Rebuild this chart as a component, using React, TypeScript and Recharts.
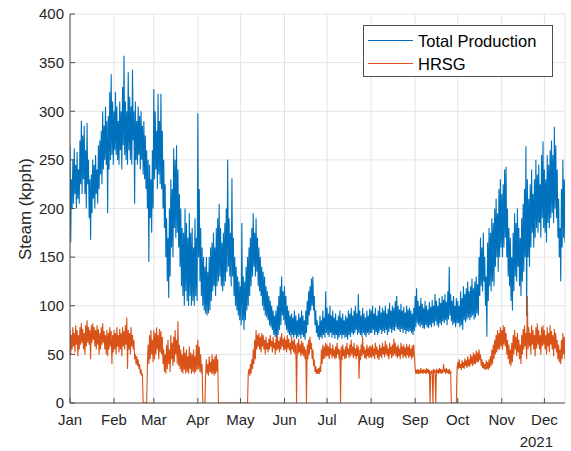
import React from 'react';
import { LineChart, Line, XAxis, YAxis, CartesianGrid, Legend, Label } from 'recharts';

// Day-of-year ticks (2021) and labels
const MONTH_TICKS = [0, 31, 59, 90, 120, 151, 181, 212, 243, 273, 304, 334];
const MONTH_LABELS = ['Jan', 'Feb', 'Mar', 'Apr', 'May', 'Jun', 'Jul', 'Aug', 'Sep', 'Oct', 'Nov', 'Dec'];
const Y_TICKS = [0, 50, 100, 150, 200, 250, 300, 350, 400];
const SERIES_NAMES = ['Total Production', 'HRSG'];

// Total Production: two readings per day (kpph)
const totJan = [[265,165],[230,200],[250,205],[262,215],[245,200],[258,210],[240,205],[270,225],[290,215],[275,230],[285,215],[260,200],[288,225],[250,190],[230,168],[235,195],[250,210],[245,200],[255,215],[240,205],[265,220],[270,235],[280,225],[300,240],[285,250],[305,245],[290,195],[295,240],[320,250],[338,255],[310,245]];
const totFeb = [[300,260],[320,255],[305,250],[290,245],[310,260],[300,240],[325,265],[357,255],[310,250],[300,245],[340,260],[315,250],[305,245],[343,270],[300,205],[310,250],[290,245],[305,255],[295,240],[300,250],[285,235],[290,230],[275,220],[260,200],[250,145],[245,190],[230,175],[260,200]];
const totMar = [[323,230],[300,240],[280,220],[318,235],[290,225],[318,220],[280,200],[250,180],[225,150],[190,125],[170,108],[200,130],[230,160],[220,150],[262,180],[250,170],[265,175],[240,160],[215,140],[200,120],[180,110],[175,100],[200,115],[185,105],[170,100],[195,110],[175,100],[180,105],[160,100],[190,110],[170,105]];
const totApr = [[298,150],[220,125],[180,110],[160,100],[150,95],[140,92],[150,90],[135,92],[150,95],[160,105],[165,115],[175,120],[160,110],[180,120],[190,125],[205,130],[180,120],[165,115],[175,120],[185,125],[200,135],[250,140],[190,130],[175,120],[231,130],[170,110],[150,100],[140,95],[130,90],[125,85]];
const totMay = [[120,80],[185,85],[130,75],[125,85],[140,95],[150,100],[160,110],[170,120],[180,130],[195,140],[175,130],[190,135],[170,120],[160,115],[150,110],[140,100],[135,95],[130,90],[120,88],[115,85],[110,80],[105,78],[100,75],[95,70],[90,68],[95,65],[100,70],[110,75],[120,80],[130,90],[115,85]];
const totJun = [[120,80],[110,75],[100,72],[95,70],[90,68],[92,70],[88,67],[95,70],[90,66],[85,68],[92,70],[88,66],[95,70],[90,68],[85,65],[95,72],[105,80],[115,90],[120,95],[128,100],[130,95],[110,80],[95,72],[85,68],[80,65],[90,68],[85,66],[95,70],[88,67],[115,72]];
const totJul = [[98,70],[92,68],[100,72],[90,67],[95,70],[88,66],[92,70],[85,65],[90,68],[95,70],[88,66],[92,70],[85,67],[90,68],[88,65],[95,70],[92,68],[98,72],[90,70],[95,72],[100,75],[92,70],[112,72],[95,70],[90,68],[98,72],[92,70],[88,68],[95,72],[90,70],[97,72]];
const totAug = [[95,72],[100,75],[92,70],[98,73],[90,70],[95,72],[100,75],[93,71],[98,74],[95,72],[100,75],[92,70],[97,73],[103,76],[95,72],[100,75],[98,74],[105,78],[110,76],[100,75],[96,73],[102,76],[95,72],[99,75],[93,71],[100,74],[96,73],[98,74],[95,72],[92,70],[98,74]];
const totSep = [[110,78],[118,82],[105,80],[100,78],[108,80],[102,77],[98,76],[105,80],[100,78],[96,77],[104,80],[99,78],[106,82],[100,79],[112,84],[105,80],[100,78],[108,82],[103,80],[110,84],[106,82],[112,85],[104,80],[115,86],[140,90],[112,84],[105,80],[110,82],[100,78],[108,82]];
const totOct = [[105,82],[100,78],[115,80],[108,75],[120,85],[112,83],[118,86],[125,88],[115,85],[120,88],[128,90],[118,86],[125,88],[130,92],[122,90],[150,110],[170,120],[160,115],[175,125],[150,100],[130,68],[165,105],[180,120],[175,115],[190,125],[185,120],[200,140],[210,150],[195,135],[220,150],[230,160]];
const totNov = [[215,150],[225,160],[240,170],[243,150],[200,130],[180,120],[170,105],[150,95],[175,115],[195,130],[185,125],[200,140],[180,120],[170,110],[190,125],[205,135],[220,150],[264,89],[230,150],[210,140],[225,160],[240,175],[215,160],[230,170],[250,180],[235,175],[245,185],[225,170],[255,190],[269,180]];
const totDec = [[240,175],[230,165],[255,185],[245,180],[260,190],[270,195],[255,185],[284,200],[265,190],[240,170],[210,150],[180,125],[220,160],[250,170],[230,165]];

// HRSG: two readings per day (kpph)
const hrsgJan = [[75,50],[70,55],[78,58],[72,52],[80,60],[75,48],[70,55],[78,60],[82,62],[76,55],[72,50],[80,58],[85,62],[78,60],[75,45],[80,62],[82,65],[78,58],[75,55],[80,60],[76,50],[72,55],[78,60],[82,62],[74,55],[70,50],[75,48],[72,55],[78,58],[74,40],[70,52]];
const hrsgFeb = [[75,55],[72,50],[78,58],[70,52],[76,55],[72,48],[78,58],[74,55],[80,60],[88,35],[75,55],[72,50],[78,58],[70,55],[65,45],[50,40],[48,38],[45,35],[40,30],[35,28],[30,0],[0,0],[0,0],[0,40],[60,40],[70,45],[75,50],[65,42]];
const hrsgMar = [[75,45],[72,50],[78,55],[70,45],[76,52],[74,50],[68,40],[55,32],[50,30],[60,35],[65,40],[55,32],[70,45],[62,38],[68,42],[75,50],[65,40],[84,38],[60,35],[55,32],[50,30],[58,34],[52,30],[55,32],[48,30],[58,35],[52,30],[50,32],[55,30],[48,32],[60,34]];
const hrsgApr = [[65,35],[58,32],[50,30],[40,0],[0,0],[0,30],[45,30],[40,28],[48,32],[42,30],[50,30],[45,28],[48,30],[50,32],[45,0],[0,0],[0,0],[0,0],[0,0],[0,0],[0,0],[0,0],[0,0],[0,0],[0,0],[0,0],[0,0],[0,0],[0,0],[0,0]];
const hrsgMay = [[0,0],[0,0],[0,0],[0,0],[0,0],[0,30],[35,28],[40,30],[45,35],[55,40],[65,45],[75,55],[70,58],[72,55],[68,52],[72,58],[70,55],[65,50],[68,55],[62,52],[66,55],[70,58],[64,52],[68,56],[62,50],[66,54],[70,55],[64,52],[68,55],[72,58],[66,54]];
const hrsgJun = [[68,55],[65,52],[70,56],[66,54],[62,50],[68,55],[64,52],[66,50],[60,0],[62,50],[66,52],[60,48],[64,50],[62,48],[58,45],[55,0],[60,45],[65,50],[68,55],[62,45],[55,38],[45,32],[38,30],[35,30],[36,30],[38,32],[55,40],[60,45],[58,46],[62,48]];
const hrsgJul = [[60,48],[58,45],[62,50],[56,46],[60,48],[55,45],[58,46],[62,50],[56,45],[55,0],[58,44],[60,48],[55,45],[58,46],[62,50],[56,46],[60,48],[65,50],[58,46],[62,48],[56,45],[60,48],[58,25],[55,44],[60,48],[68,50],[58,46],[55,45],[60,48],[57,46],[59,47]];
const hrsgAug = [[58,46],[60,48],[56,45],[62,50],[58,46],[55,44],[60,48],[57,46],[62,50],[58,47],[64,50],[60,48],[56,45],[62,50],[58,46],[60,48],[66,50],[62,48],[58,46],[60,48],[56,45],[62,50],[58,46],[60,48],[57,46],[61,49],[58,46],[60,48],[56,45],[59,47],[60,48]];
const hrsgSep = [[36,30],[34,30],[35,31],[33,30],[36,31],[34,30],[35,31],[34,30],[36,31],[35,30],[34,0],[33,30],[34,0],[35,31],[34,0],[35,31],[34,30],[36,31],[35,30],[34,31],[40,32],[35,30],[36,31],[34,30],[35,31],[33,0],[0,0],[0,0],[0,0],[0,35]];
const hrsgOct = [[42,35],[45,36],[40,34],[44,36],[42,35],[46,38],[44,36],[48,38],[45,37],[50,40],[48,38],[52,40],[50,40],[54,42],[52,42],[55,44],[50,38],[45,36],[42,35],[40,34],[44,35],[42,34],[45,36],[48,38],[55,40],[60,45],[65,50],[70,52],[75,55],[72,55],[78,58]];
const hrsgNov = [[75,55],[80,60],[78,58],[72,50],[65,45],[60,40],[55,38],[62,42],[70,50],[75,55],[68,48],[72,52],[65,45],[60,40],[70,50],[76,55],[80,58],[72,45],[110,55],[78,58],[72,50],[80,60],[75,55],[70,48],[78,56],[82,60],[75,55],[70,50],[78,58],[80,60]];
const hrsgDec = [[75,55],[70,50],[78,58],[72,52],[80,60],[74,55],[70,48],[76,56],[72,52],[65,45],[60,42],[55,40],[65,45],[72,50],[68,45]];

const totalDays = [totJan, totFeb, totMar, totApr, totMay, totJun, totJul, totAug, totSep, totOct, totNov, totDec].flat();
const hrsgDays = [hrsgJan, hrsgFeb, hrsgMar, hrsgApr, hrsgMay, hrsgJun, hrsgJul, hrsgAug, hrsgSep, hrsgOct, hrsgNov, hrsgDec].flat();

const data: { d: number; total: number; hrsg: number }[] = [];
totalDays.forEach((pair, day) => {
  const h = hrsgDays[day] || [0, 0];
  data.push({ d: day, total: pair[0], hrsg: h[0] });
  data.push({ d: day + 0.5, total: pair[1], hrsg: h[1] });
});
const X_MAX = totalDays.length - 0.5;

const FONT = '"Liberation Sans", Arial, Helvetica, sans-serif';
const TEXT = '#262626';
const AXIS = '#4d4d4d';
const GRID = '#e4e4e4';
const BLUE = '#0072BD';
const ORANGE = '#D95319';

const renderLegend = () => (
  <div
    style={{
      width: 188,
      height: 50,
      border: `1px solid ${AXIS}`,
      background: '#fff',
      fontFamily: FONT,
      fontSize: 16.5,
      color: '#000',
      boxSizing: 'content-box',
    }}
  >
    {[BLUE, ORANGE].map((c, i) => (
      <div key={i} style={{ display: 'flex', alignItems: 'center', height: 23, marginTop: i === 0 ? 3 : 0 }}>
        <div style={{ width: 45, height: 0, borderTop: `1px solid ${c}`, marginLeft: 4, marginRight: 5 }} />
        <span style={{ lineHeight: '20px' }}>{SERIES_NAMES[i]}</span>
      </div>
    ))}
  </div>
);

export default function App() {
  return (
    <div style={{ position: 'absolute', left: 0, top: 0, width: 571, height: 451, background: '#fff' }}>
      <LineChart
        width={571}
        height={451}
        data={data}
        margin={{ top: 14, right: 6, left: 0, bottom: 0 }}
        style={{ fontFamily: FONT }}
      >
        <CartesianGrid xAxisId="b" yAxisId="l" stroke={GRID} strokeWidth={1} horizontal vertical />
        <XAxis
          xAxisId="b"
          dataKey="d"
          type="number"
          domain={[0, X_MAX]}
          ticks={MONTH_TICKS}
          tickFormatter={(v: number) => MONTH_LABELS[MONTH_TICKS.indexOf(v)]}
          height={48}
          tickSize={-5}
          tickMargin={16}
          axisLine={{ stroke: AXIS }}
          tickLine={{ stroke: AXIS }}
          tick={{ fill: TEXT, fontSize: 15 }}
          allowDataOverflow
        >
          <Label
            content={() => (
              <text x={553} y={447} textAnchor="end" fill={TEXT} fontSize={15} fontFamily={FONT}>
                2021
              </text>
            )}
          />
        </XAxis>
        <XAxis
          xAxisId="t"
          orientation="top"
          dataKey="d"
          type="number"
          domain={[0, X_MAX]}
          ticks={MONTH_TICKS}
          height={0}
          tickSize={-5}
          tick={false}
          axisLine={{ stroke: AXIS }}
          tickLine={{ stroke: AXIS }}
          allowDataOverflow
        />
        <YAxis
          yAxisId="l"
          domain={[0, 400]}
          ticks={Y_TICKS}
          width={70}
          tickSize={-5}
          tickMargin={11}
          axisLine={{ stroke: AXIS }}
          tickLine={{ stroke: AXIS }}
          tick={{ fill: TEXT, fontSize: 15 }}
          allowDataOverflow
        >
          <Label
            content={() => (
              <text
                x={25}
                y={209}
                transform="rotate(-90, 25, 209)"
                textAnchor="middle"
                dominantBaseline="central"
                fill={TEXT}
                fontSize={17}
                fontFamily={FONT}
              >
                Steam (kpph)
              </text>
            )}
          />
        </YAxis>
        <YAxis
          yAxisId="r"
          orientation="right"
          domain={[0, 400]}
          ticks={Y_TICKS}
          width={0}
          tickSize={-5}
          tick={false}
          axisLine={{ stroke: AXIS }}
          tickLine={{ stroke: AXIS }}
          allowDataOverflow
        />
        <Legend
          layout="vertical"
          align="center"
          verticalAlign="middle"
          content={renderLegend}
          wrapperStyle={{ left: 363, top: 25, width: 190, height: 52 }}
        />
        <Line
          xAxisId="b"
          yAxisId="l"
          type="linear"
          dataKey="total"
          name={SERIES_NAMES[0]}
          stroke={BLUE}
          strokeWidth={1.1}
          dot={false}
          isAnimationActive={false}
        />
        <Line
          xAxisId="b"
          yAxisId="l"
          type="linear"
          dataKey="hrsg"
          name={SERIES_NAMES[1]}
          stroke={ORANGE}
          strokeWidth={1.1}
          dot={false}
          isAnimationActive={false}
        />
      </LineChart>
    </div>
  );
}
